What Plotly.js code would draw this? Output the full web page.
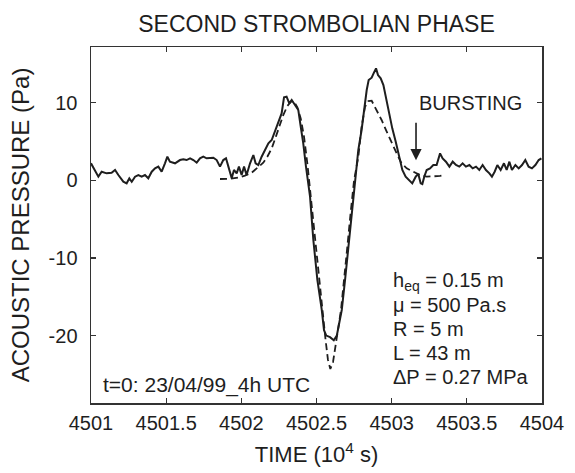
<!DOCTYPE html>
<html>
<head>
<meta charset="utf-8">
<script src="https://cdn.plot.ly/plotly-3.0.1.min.js"></script>
<style>
html,body{margin:0;padding:0;background:#fff;}
#chart{width:575px;height:473px;}
</style>
</head>
<body>
<div id="chart"></div>
<script>
// Measured acoustic pressure (solid line)
const timeMeasured = [
4501.000,4501.049,4501.071,4501.104,4501.137,4501.160,4501.182,4501.215,4501.237,4501.255,
4501.271,4501.293,4501.315,4501.337,4501.359,4501.381,4501.404,4501.426,4501.448,4501.470,
4501.492,4501.508,4501.525,4501.559,4501.592,4501.614,4501.636,4501.659,4501.681,4501.703,
4501.725,4501.747,4501.769,4501.792,4501.814,4501.836,4501.858,4501.880,4501.898,4501.914,
4501.936,4501.951,4501.969,4501.984,4502.002,4502.018,4502.035,4502.058,4502.080,4502.095,
4502.113,4502.135,4502.157,4502.180,4502.202,4502.224,4502.246,4502.268,4502.284,4502.301,
4502.319,4502.335,4502.357,4502.379,4502.395,4502.412,4502.430,4502.446,
4502.457,4502.479,4502.506,4502.535,4502.550,4502.565,4502.590,4502.615,4502.635,4502.650,
4502.668,4502.690,4502.712,4502.734,4502.756,
4502.778,4502.800,4502.816,4502.834,4502.847,4502.867,4502.882,4502.896,4502.909,4502.927,
4502.945,4502.962,4502.982,4503.004,4503.027,4503.049,4503.071,4503.093,4503.115,4503.137,
4503.160,4503.177,4503.193,4503.204,4503.217,4503.233,4503.255,4503.277,4503.299,4503.322,
4503.339,4503.361,4503.384,4503.406,4503.428,4503.450,4503.472,4503.494,4503.517,4503.539,
4503.561,4503.583,4503.605,4503.627,4503.650,4503.667,4503.685,4503.703,4503.725,4503.747,
4503.765,4503.783,4503.800,4503.823,4503.845,4503.867,4503.889,4503.911,4503.933,4503.956,
4503.978,4503.996
];
const pressureMeasured = [
2.19,0.47,1.11,0.90,0.98,1.33,0.68,-0.18,-0.39,0.26,
-0.18,0.47,0.68,0.47,0.68,0.26,1.11,1.54,1.76,1.11,
2.19,3.04,2.40,2.19,2.61,2.70,2.61,2.83,2.61,2.27,
2.83,3.04,2.83,2.83,2.91,2.61,1.76,2.61,2.83,1.76,
0.26,1.33,0.90,1.76,0.68,1.76,0.68,2.19,3.26,2.19,
1.97,3.04,3.90,4.76,5.19,6.27,7.34,8.62,10.68,10.77,
9.91,10.34,9.70,9.05,6.91,4.76,1.76,-0.39,
-2.11,-7.69,-12.84,-16.70,-19.30,-20.00,-20.20,-20.60,-20.00,-18.50,
-16.70,-12.84,-8.55,-4.25,0.04,
3.90,6.48,9.05,11.63,12.92,13.22,13.86,14.42,13.56,13.13,
12.27,10.56,8.62,6.69,4.97,3.26,1.33,0.47,0.04,-0.39,
0.47,0.81,-0.39,-0.48,0.47,1.33,1.54,1.97,1.97,3.47,
2.83,2.40,1.76,2.40,1.97,1.76,2.19,1.76,1.97,1.54,
1.76,1.33,1.97,1.33,0.90,0.47,1.11,1.97,1.33,2.19,
1.33,2.40,1.33,1.97,1.54,1.97,2.61,1.76,1.54,1.97,
2.61,2.83
];
// Model (dashed line)
const timeModel = [
4501.858,4501.925,4501.980,4502.024,4502.069,4502.113,4502.146,4502.173,4502.202,4502.228,
4502.253,4502.279,4502.306,4502.330,4502.350,4502.373,4502.395,4502.417,4502.439,4502.461,
4502.483,4502.506,4502.528,4502.545,4502.560,4502.576,4502.592,4502.610,4502.627,4502.645,
4502.663,4502.685,4502.708,4502.728,4502.750,4502.778,4502.800,4502.823,4502.845,4502.867,
4502.900,4502.933,4502.967,4503.000,4503.033,4503.066,4503.100,4503.144,4503.188,4503.233,
4503.277,4503.322,4503.344
];
const pressureModel = [
0.17,0.21,0.34,0.60,0.98,1.67,2.27,3.04,4.12,5.53,
6.99,8.41,9.57,10.13,10.13,9.40,7.98,5.62,2.19,-2.11,
-6.40,-10.69,-14.56,-17.60,-20.50,-23.10,-24.30,-23.40,-21.00,-19.00,
-16.70,-12.84,-8.00,-4.00,0.00,3.00,6.91,9.48,10.20,10.25,
9.05,7.77,6.27,4.76,3.47,2.19,1.54,1.11,0.68,0.47,
0.47,0.56,0.64
];
const xTickVals = [4501, 4501.5, 4502, 4502.5, 4503, 4503.5, 4504];
const xTickText = ["4501", "4501.5", "4502", "4502.5", "4503", "4503.5", "4504"];
const yTickVals = [-20, -10, 0, 10];
const yTickText = ["-20", "-10", "0", "10"];
const paramLines = ["h<sub>eq</sub> = 0.15 m", "\u03bc = 500 Pa.s", "R = 5 m", "L = 43 m", "\u0394P = 0.27 MPa"];

const FONT = "Liberation Sans, Arial, Helvetica, sans-serif";
const INK = "#1e1e1e";

const traces = [
  {x: timeMeasured, y: pressureMeasured, type: "scatter", mode: "lines",
   line: {color: INK, width: 2}, hoverinfo: "skip", showlegend: false},
  {x: timeModel, y: pressureModel, type: "scatter", mode: "lines",
   line: {color: INK, width: 1.8, dash: "7px,4px"}, hoverinfo: "skip", showlegend: false}
];

const paramYs = [281, 305, 329, 353, 377];
const annotations = paramLines.map((t, i) => ({
  text: t, xref: "paper", yref: "paper",
  x: (391 - 91) / 451, y: (403 - paramYs[i]) / 356,
  xanchor: "left", yanchor: "middle", showarrow: false,
  font: {family: FONT, size: 20, color: INK}
}));
annotations.push({
  text: "t=0: 23/04/99_4h UTC", xref: "paper", yref: "paper",
  x: (101 - 91) / 451, y: (403 - 385) / 356,
  xanchor: "left", yanchor: "middle", showarrow: false,
  font: {family: FONT, size: 21, color: INK}
});
annotations.push({
  text: "BURSTING", xref: "paper", yref: "paper",
  x: (417 - 91) / 451, y: (403 - 103) / 356,
  xanchor: "left", yanchor: "middle", showarrow: false,
  font: {family: FONT, size: 20, color: INK}
});
annotations.push({
  text: " ", xref: "x", yref: "y", x: 4503.162, y: 2.6,
  showarrow: true, ax: 0, ay: -40, arrowhead: 2, arrowsize: 1.4,
  arrowwidth: 1.6, arrowcolor: INK, font: {size: 2}
});

const layout = {
  width: 575, height: 473,
  margin: {l: 91, r: 33, t: 47, b: 70, pad: 0},
  paper_bgcolor: "#fff", plot_bgcolor: "#fff",
  font: {family: FONT, size: 20, color: INK},
  title: {text: "SECOND STROMBOLIAN PHASE", x: 0.5, xref: "paper",
          y: 1 - 24 / 473, yref: "container", yanchor: "middle",
          font: {family: FONT, size: 23, color: INK}},
  xaxis: {
    range: [4501, 4504], tickvals: xTickVals, ticktext: xTickText,
    ticks: "inside", ticklen: 5, tickwidth: 1.2, tickcolor: "#333",
    showline: true, linecolor: "#333", linewidth: 1.5, mirror: "ticks",
    showgrid: false, zeroline: false, ticklabelstandoff: 1,
    tickfont: {family: FONT, size: 20, color: INK},
    title: {text: "TIME (10<sup>4</sup> s)", standoff: 14,
            font: {family: FONT, size: 22, color: INK}}
  },
  yaxis: {
    range: [-28.68, 17.17], tickvals: yTickVals, ticktext: yTickText,
    ticks: "inside", ticklen: 5, tickwidth: 1.2, tickcolor: "#333",
    showline: true, linecolor: "#333", linewidth: 1.5, mirror: "ticks",
    showgrid: false, zeroline: false, ticklabelstandoff: 8,
    tickfont: {family: FONT, size: 20, color: INK},
    title: {text: "ACOUSTIC PRESSURE (Pa)", standoff: 12,
            font: {family: FONT, size: 24, color: INK}}
  },
  annotations: annotations,
  showlegend: false
};

Plotly.newPlot("chart", traces, layout, {staticPlot: true, displayModeBar: false});
</script>
</body>
</html>
